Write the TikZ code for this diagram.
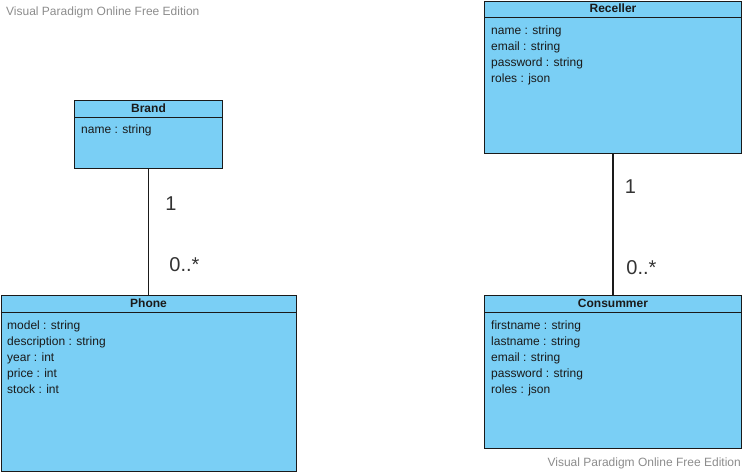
\documentclass[tikz,border=0pt]{standalone}
\usepackage{fontspec}
\setmainfont{Liberation Sans}
\definecolor{cls}{HTML}{7ACFF5}
\definecolor{bd}{HTML}{1A1A1A}
\definecolor{wm}{HTML}{8C8C8C}
\definecolor{mtxt}{HTML}{333333}
\begin{document}
\begin{tikzpicture}[x=1pt,y=-1pt,
  classbox/.style={draw=bd,fill=cls,line width=1pt,rectangle,anchor=north west,inner sep=0pt},
  divider/.style={draw=bd,line width=1pt},
  titletext/.style={font=\fontsize{12}{14}\selectfont\bfseries,text=bd,inner sep=0pt},
  attrtext/.style={font=\fontsize{12}{14}\selectfont,text=bd,anchor=base west,inner sep=0pt},
  mult/.style={font=\fontsize{20}{22}\selectfont,text=mtxt,inner sep=0pt},
  wmark/.style={font=\fontsize{12}{14}\selectfont,text=wm,inner sep=0pt},
  conn/.style={draw=bd,line width=1.2pt}]
\useasboundingbox (0,0) rectangle (747,472);

% Brand
\node[classbox,minimum width=148pt,minimum height=68pt] (brand) at (74,100) {};
\draw[divider] ([yshift=-17pt]brand.north west) coordinate (brandl) -- ([yshift=-17pt]brand.north east) coordinate (brandr);
\node[titletext] (brandt) at ([yshift=-8.5pt]brand.north) {Brand};
\node[attrtext] (brand1) at ([xshift=7pt,yshift=-33pt]brand.north west) {name : string};

% Phone
\node[classbox,minimum width=295pt,minimum height=176pt] (phone) at (0.5,295) {};
\draw[divider] ([yshift=-17pt]phone.north west) coordinate (phonel) -- ([yshift=-17pt]phone.north east) coordinate (phoner);
\node[titletext] (phonet) at ([yshift=-8.5pt]phone.north) {Phone};
\foreach \t [count=\i] in {model : string,description : string,year : int,price : int,stock : int}
  \node[attrtext] (phone\i) at ([xshift=6.5pt,yshift={-34.5pt-16pt*(\i-1)}]phone.north west) {\t};

% Receller
\node[classbox,minimum width=257pt,minimum height=152.5pt] (rec) at (484,0.5) {};
\draw[divider] ([yshift=-16.5pt]rec.north west) coordinate (recl) -- ([yshift=-16.5pt]rec.north east) coordinate (recr);
\node[titletext] (rect) at ([yshift=-8pt]rec.north) {Receller};
\foreach \t [count=\i] in {name : string,email : string,password : string,roles : json}
  \node[attrtext] (rec\i) at ([xshift=7pt,yshift={-34pt-16pt*(\i-1)}]rec.north west) {\t};

% Consummer
\node[classbox,minimum width=257pt,minimum height=153pt] (cons) at (484,295) {};
\draw[divider] ([yshift=-17pt]cons.north west) coordinate (consl) -- ([yshift=-17pt]cons.north east) coordinate (consr);
\node[titletext] (const) at ([yshift=-8.5pt]cons.north) {Consummer};
\foreach \t [count=\i] in {firstname : string,lastname : string,email : string,password : string,roles : json}
  \node[attrtext] (cons\i) at ([xshift=7pt,yshift={-34.5pt-16pt*(\i-1)}]cons.north west) {\t};

% Connectors
\draw[conn] (brand.south) -- (phone.north);
\draw[conn] (rec.south) -- (cons.north);

% Multiplicities
\node[mult] (m1) at (171,203.5) {1};
\node[mult] (m2) at (184.5,265) {0..*};
\node[mult] (m3) at (630.5,187) {1};
\node[mult] (m4) at (641.5,267.5) {0..*};

% Watermarks
\node[wmark,anchor=west] (wm1) at (6,12) {Visual Paradigm Online Free Edition};
\node[wmark,anchor=east] (wm2) at (741,463) {Visual Paradigm Online Free Edition};
\end{tikzpicture}
\end{document}
